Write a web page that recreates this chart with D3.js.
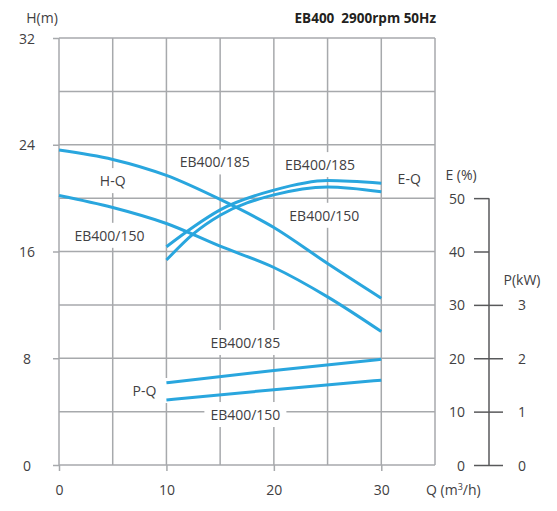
<!DOCTYPE html>
<html>
<head>
<meta charset="utf-8">
<script src="https://cdn.jsdelivr.net/npm/d3@7/dist/d3.min.js"></script>
<style>
  body { margin: 0; background: #fff; }
  svg text { font-family: "Open Sans", "Noto Sans", sans-serif; fill: #414042; }
</style>
</head>
<body>
<div id="chart"></div>
<script>
// H-Q curves
const qHQ = [0, 5, 10, 15, 20, 25, 30];
const h185 = [23.6, 22.9, 21.7, 19.9, 17.8, 15.1, 12.5];
const h150 = [20.2, 19.3, 18.1, 16.4, 14.8, 12.6, 10.0];
// E-Q curves (%)
const qEQ = [10, 12.5, 15, 20, 25, 30];
const e185 = [40.9, 44.6, 47.8, 51.5, 53.3, 52.8];
const e150 = [38.4, 43.3, 46.8, 50.6, 52.1, 51.2];
// P-Q curves (kW)
const qPQ = [10, 20, 30];
const p185 = [1.54, 1.77, 1.98];
const p150 = [1.22, 1.41, 1.59];

const hTicks = [0, 8, 16, 24, 32];
const qTicks = [0, 10, 20, 30];
const eTicks = [0, 10, 20, 30, 40, 50];
const pTicks = [0, 1, 2, 3];

// annotation texts, anchored in data units (Q, H)
const labelText = ["EB400/185", "H-Q", "EB400/150", "EB400/185", "E-Q", "EB400/150", "EB400/185", "P-Q", "EB400/150"];
const labelQ = [14.5, 5.0, 4.7, 24.3, 32.6, 24.7, 17.35, 7.95, 17.35];
const labelH = [22.3, 20.9, 16.8, 22.1, 21.05, 18.3, 8.77, 5.17, 3.37];

const width = 557, height = 511;
const blue = "#29a6de";
const gridColor = "#a7a9ac";
const axisColor = "#58595b";

const svg = d3.select("#chart").append("svg")
    .attr("width", width)
    .attr("height", height);

const x = d3.scaleLinear().domain([0, 35]).range([59, 435]);
const y = d3.scaleLinear().domain([0, 32]).range([465, 38]);
const yE = d3.scaleLinear().domain([0, 80]).range([465, 38]);  // E% on the same grid: 10% = 4 m
const yP = d3.scaleLinear().domain([0, 8]).range([465, 38]);   // 1 kW = 4 m

// layers
const grid = svg.append("g");
const boxes = svg.append("g");
const curves = svg.append("g")
    .attr("fill", "none")
    .attr("stroke", blue)
    .attr("stroke-width", 3);
const labels = svg.append("g");

// grid
grid.selectAll(".vg").data(d3.range(0, 36, 5)).join("line")
    .attr("x1", d => x(d)).attr("x2", d => x(d))
    .attr("y1", y(32)).attr("y2", y(0))
    .attr("stroke", gridColor).attr("stroke-width", 1.5);
grid.selectAll(".hg").data(d3.range(0, 33, 4)).join("line")
    .attr("x1", x(0)).attr("x2", x(35))
    .attr("y1", d => y(d)).attr("y2", d => y(d))
    .attr("stroke", gridColor).attr("stroke-width", 1.5);

// left axis
const yG = svg.append("g").attr("transform", `translate(${x(0)},0)`)
    .call(d3.axisLeft(y).tickValues(hTicks).tickSize(6).tickSizeOuter(0));
yG.select(".domain").remove();
yG.selectAll("line").attr("stroke", gridColor).attr("stroke-width", 1.5);
yG.selectAll("text")
    .attr("x", -32).attr("dy", "0.36em")
    .style("text-anchor", "middle")
    .style("font-size", "14px");

// bottom axis
const xG = svg.append("g").attr("transform", `translate(0,${y(0)})`)
    .call(d3.axisBottom(x).tickValues(qTicks).tickSize(6).tickSizeOuter(0));
xG.select(".domain").remove();
xG.selectAll("line").attr("stroke", gridColor).attr("stroke-width", 1.5);
xG.selectAll("text")
    .attr("y", 30).attr("dy", 0)
    .style("font-size", "14px");

// right E / P axes
const axisX = 489;
const eG = svg.append("g").attr("transform", `translate(${axisX},0)`)
    .call(d3.axisLeft(yE).tickValues(eTicks).tickSize(15).tickSizeOuter(0));
eG.select(".domain").remove();
eG.selectAll("line").attr("stroke", axisColor).attr("stroke-width", 1.5);
eG.selectAll("text")
    .attr("x", -24).attr("dy", "0.36em")
    .style("font-size", "14px");
eG.append("line")
    .attr("x1", 0).attr("x2", 0)
    .attr("y1", yE(0)).attr("y2", yE(50))
    .attr("stroke", axisColor).attr("stroke-width", 1.5);

const pG = svg.append("g").attr("transform", `translate(${axisX},0)`)
    .call(d3.axisRight(yP).tickValues(pTicks).tickSize(14).tickSizeOuter(0));
pG.select(".domain").remove();
pG.selectAll("line").attr("stroke", axisColor).attr("stroke-width", 1.5);
pG.selectAll("text")
    .attr("x", 33).attr("dy", "0.36em")
    .style("text-anchor", "middle")
    .style("font-size", "14px");

// curves
const line = d3.line().curve(d3.curveMonotoneX);
[h185, h150].forEach(arr => {
    curves.append("path").attr("d", line(qHQ.map((q, i) => [x(q), y(arr[i])])));
});
[e185, e150].forEach(arr => {
    curves.append("path").attr("d", line(qEQ.map((q, i) => [x(q), yE(arr[i])])));
});
[p185, p150].forEach(arr => {
    curves.append("path").attr("d", line(qPQ.map((q, i) => [x(q), yP(arr[i])])));
});

// annotation labels, white boxes cut the grid behind them
labelText.forEach((t, i) => {
    const txt = labels.append("text")
        .attr("x", x(labelQ[i]))
        .attr("y", y(labelH[i]))
        .attr("text-anchor", "middle")
        .style("font-size", "14px")
        .text(t);
    if (t === "E-Q") return;
    const bb = txt.node().getBBox();
    const padR = t === "P-Q" ? 12 : 6;
    boxes.append("rect")
        .attr("x", bb.x - 6)
        .attr("y", bb.y - 3)
        .attr("width", bb.width + 6 + padR)
        .attr("height", bb.height + 6)
        .attr("fill", "#fff");
});

// titles
svg.append("text")
    .attr("x", 42).attr("y", 23)
    .attr("text-anchor", "middle")
    .style("font-size", "14px")
    .text("H(m)");

svg.append("text")
    .attr("x", 436).attr("y", 23)
    .attr("text-anchor", "end")
    .attr("xml:space", "preserve")
    .style("font-size", "13.5px")
    .style("font-weight", "700")
    .style("fill", "#231f20")
    .text("EB400  2900rpm 50Hz");

svg.append("text")
    .attr("x", 461).attr("y", 180)
    .attr("text-anchor", "middle")
    .style("font-size", "14px")
    .text("E (%)");

svg.append("text")
    .attr("x", 522).attr("y", 285)
    .attr("text-anchor", "middle")
    .style("font-size", "14px")
    .text("P(kW)");

const qLabel = svg.append("text")
    .attr("x", 426).attr("y", 495)
    .style("font-size", "14px");
qLabel.append("tspan").text("Q (m");
qLabel.append("tspan").attr("dy", -5).style("font-size", "9px").text("3");
qLabel.append("tspan").attr("dy", 5).text("/h)");
</script>
</body>
</html>
